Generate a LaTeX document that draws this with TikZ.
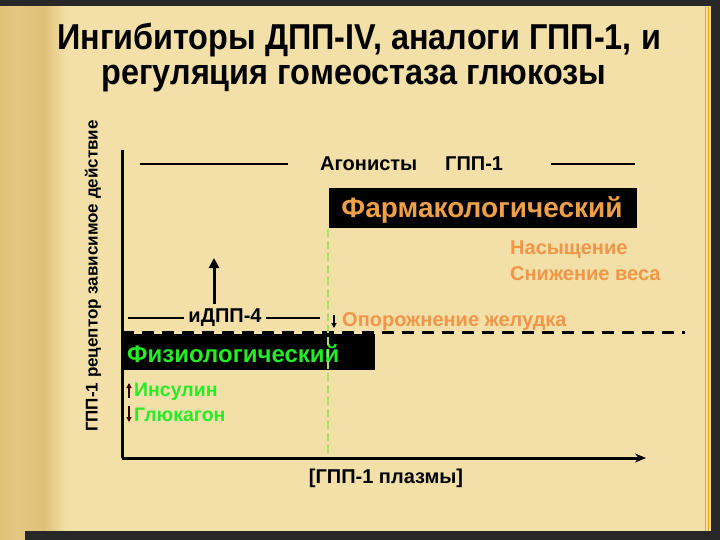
\documentclass[tikz,border=0pt]{standalone}
\usepackage{fontspec}
\setmainfont{Liberation Sans}
\usetikzlibrary{positioning,arrows.meta}
\definecolor{parch}{RGB}{242,224,168}
\definecolor{parchdark}{RGB}{224,192,118}
\definecolor{orangetxt}{RGB}{240,150,70}
\definecolor{pharmtxt}{RGB}{238,160,72}
\definecolor{greentxt}{RGB}{40,235,40}
\definecolor{greendash}{RGB}{165,225,95}
\definecolor{framegray}{RGB}{40,40,40}
\tikzset{
  axisline/.style={line width=3pt},
  hline/.style={line width=2.5pt},
  boldtext/.style={font=\bfseries\fontsize{20}{22}\selectfont, inner sep=0pt},
  orangelbl/.style={boldtext, text=orangetxt},
  greenlbl/.style={boldtext, text=greentxt, font=\bfseries\fontsize{19.5}{22}\selectfont},
  blackbox/.style={fill=black, inner sep=0pt},
  smallarrow/.style={line width=1.5pt, -{Triangle[length=5pt,width=5pt]}},
}
\begin{document}
\begin{tikzpicture}[x=1pt,y=-1pt]
\useasboundingbox (0,0) rectangle (720,540);

% parchment
\fill[parch] (0,0) rectangle (720,540);
\shade[left color=parchdark, right color=parch] (0,0) rectangle (70,540);
\shade[left color=parchdark!80!parch, right color=parchdark] (18,0) rectangle (44,540);
\shade[left color=parchdark, right color=parch] (44,0) rectangle (66,540);

% frame
\fill[framegray] (0,0) rectangle (720,6);
\fill[framegray] (711,0) rectangle (720,540);
\fill[framegray] (25,531) rectangle (720,540);
\draw[orange!70!yellow, line width=0.8pt] (705,6) -- (705,531) (708,6) -- (708,531);

% title
\node[boldtext, font=\bfseries\fontsize{36}{40}\selectfont, xscale=0.9, anchor=base] (title1) at (359,50) {Ингибиторы ДПП-IV, аналоги ГПП-1, и};
\node[boldtext, font=\bfseries\fontsize{36}{40}\selectfont, xscale=0.9, anchor=base] (title2) at (354,85) {регуляция гомеостаза глюкозы};

% axes
\coordinate (origin) at (122,458);
\coordinate (ytop) at (122,150);
\coordinate (xend) at (646,458);
\draw[axisline] (ytop) -- (origin);
\draw[axisline, -{Stealth[length=11pt,width=9pt]}] (origin) -- (xend);
\node[boldtext, font=\bfseries\fontsize{17}{19}\selectfont, rotate=90] (ylabel) at (93,276) {ГПП-1 рецептор зависимое действие};
\node[boldtext] (xlabel) at (386,478) {[ГПП-1 плазмы]};

% agonists row
\node[boldtext, anchor=west] (agon) at (320,164) {Агонисты};
\node[boldtext, anchor=west] (glp) at (445,164) {ГПП-1};
\coordinate (agonL) at (140,164);
\coordinate (glpR) at (635,164);
\draw[hline] (agonL) -- ([xshift=-32pt]agon.west);
\draw[hline] ([xshift=48pt]glp.east) -- (glpR);

% pharmacological level
\node[blackbox, minimum width=308pt, minimum height=40pt] (pharm) at (483,208) {};
\node[boldtext, text=pharmtxt, font=\bfseries\fontsize{28}{30}\selectfont] (pharmlbl) at (482,210) {Фармакологический};
\node[orangelbl, anchor=west] (sat) at (510,250) {Насыщение};
\node[orangelbl, anchor=west] (wt) at (510,274) {Снижение веса};

% threshold
\coordinate (dashL) at (122,332);
\coordinate (dashR) at (685,332);
\draw[line width=3pt, dash pattern=on 12pt off 8pt] (dashL) -- (dashR);

% physiological level
\node[blackbox, minimum width=253pt, minimum height=36pt] (phys) at (248.5,352) {};
\node[greenlbl, font=\bfseries\fontsize{24}{26}\selectfont, anchor=west] (physlbl) at (127,354) {Физиологический};

% green boundary
\coordinate (gtop) at (328,229);
\coordinate (gbot) at (328,455);
\draw[greendash, line width=2pt, dash pattern=on 8pt off 4pt] (gtop) -- (gbot);

% DPP-4 inhibitor row
\node[boldtext] (idpp) at (225,318) {иДПП-4};
\coordinate (idppL) at (128,318);
\coordinate (idppR) at (320,318);
\draw[hline] (idppL) -- ([xshift=-4pt]idpp.west);
\draw[hline] ([xshift=4pt]idpp.east) -- (idppR);
\coordinate (upbase) at (214,304);
\coordinate (uptip) at (214,258);
\draw[line width=3pt, -{Triangle[length=10pt,width=10pt]}] (upbase) -- (uptip);

\node[orangelbl, anchor=west] (empty) at (342,322) {Опорожнение желудка};
\draw[smallarrow] ([xshift=-8pt,yshift=7pt]empty.west) -- ([xshift=-8pt,yshift=-6pt]empty.west);

% hormones
\node[greenlbl, anchor=west] (ins) at (134,392) {Инсулин};
\node[greenlbl, anchor=west] (gluc) at (134,415) {Глюкагон};
\draw[smallarrow, draw=black!80!red] ([xshift=-5pt,yshift=-6pt]ins.west) -- ([xshift=-5pt,yshift=9pt]ins.west);
\draw[smallarrow, draw=black!80!red] ([xshift=-5pt,yshift=9pt]gluc.west) -- ([xshift=-5pt,yshift=-7pt]gluc.west);
\end{tikzpicture}
\end{document}
